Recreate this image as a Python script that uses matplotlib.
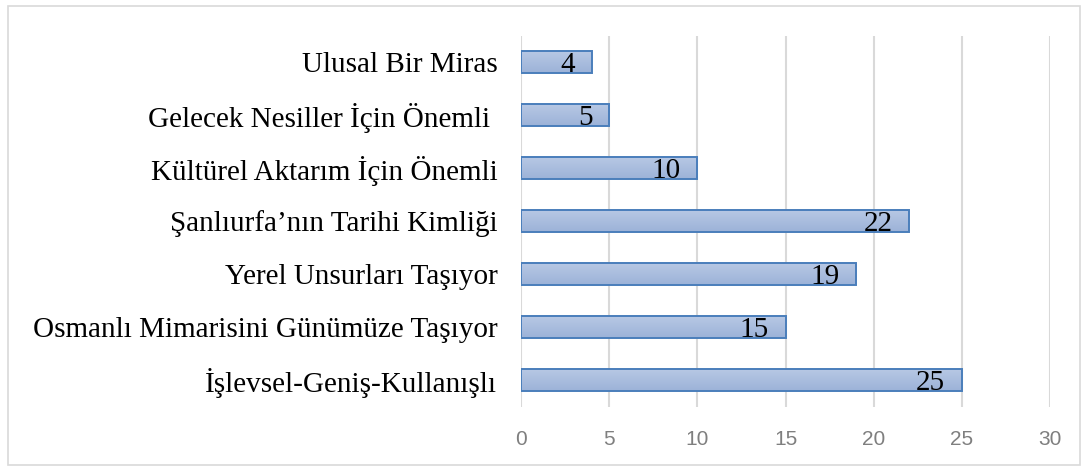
import matplotlib
matplotlib.use("Agg")
import matplotlib.pyplot as plt
import numpy as np
from matplotlib.patches import Rectangle
from matplotlib.colors import LinearSegmentedColormap

# kategoriler alttan üste doğru
categories = [
    "İşlevsel-Geniş-Kullanışlı",
    "Osmanlı Mimarisini Günümüze Taşıyor",
    "Yerel Unsurları Taşıyor",
    "Şanlıurfa’nın Tarihi Kimliği",
    "Kültürel Aktarım İçin Önemli",
    "Gelecek Nesiller İçin Önemli ",
    "Ulusal Bir Miras",
]
values = [25, 15, 19, 22, 10, 5, 4]
xticks = [0, 5, 10, 15, 20, 25, 30]

fig = plt.figure(figsize=(10.91, 4.71), dpi=100)
ax = fig.add_axes([521 / 1091, 1 - 406.5 / 471, 529 / 1091, 371 / 471])

# dış çerçeve
fig.patches.append(Rectangle((8 / 1091, 1 - 465 / 471), 1072 / 1091, 459 / 471,
                             transform=fig.transFigure, fill=False,
                             edgecolor="#d9d9d9", linewidth=1.2))

ypos = np.arange(len(categories))
bar_h = 0.40
bars = ax.barh(ypos, values, height=bar_h, color="none", edgecolor="#4a7ebb",
               linewidth=1.4, zorder=4)

# çubuklara dikey renk geçişi (üst açık, alt koyu)
cmap = LinearSegmentedColormap.from_list("bar", ["#9cb2d8", "#b7c8e4"])
grad = np.linspace(0, 1, 64).reshape(-1, 1)
for b in bars:
    x0, y0 = b.get_x(), b.get_y()
    w, h = b.get_width(), b.get_height()
    im = ax.imshow(grad, cmap=cmap, aspect="auto", origin="lower",
                   extent=(x0, x0 + w, y0, y0 + h), zorder=3)
    im.set_clip_path(b)

for y, v in zip(ypos, values):
    ax.annotate(str(v), (v, y), xytext=(-12, -7), textcoords="offset points",
                ha="right", va="baseline", fontsize=21,
                family="Liberation Serif", color="black", zorder=5)

ax.set_xlim(0, 30)
ax.set_ylim(-0.5, len(categories) - 0.5)
ax.set_xticks(xticks)
ax.set_xticklabels([str(t) for t in xticks], family="Liberation Sans",
                   fontsize=15, color="#7f7f7f")
ax.set_yticks(ypos)
ax.set_yticklabels(categories, family="Liberation Serif", fontsize=21)
ax.tick_params(axis="both", length=0)
ax.tick_params(axis="y", pad=17)
ax.tick_params(axis="x", pad=17)
ax.grid(axis="x", color="#d9d9d9", linewidth=1.5, zorder=0)
for s in ax.spines.values():
    s.set_visible(False)

fig.savefig("out.png", dpi=100)
